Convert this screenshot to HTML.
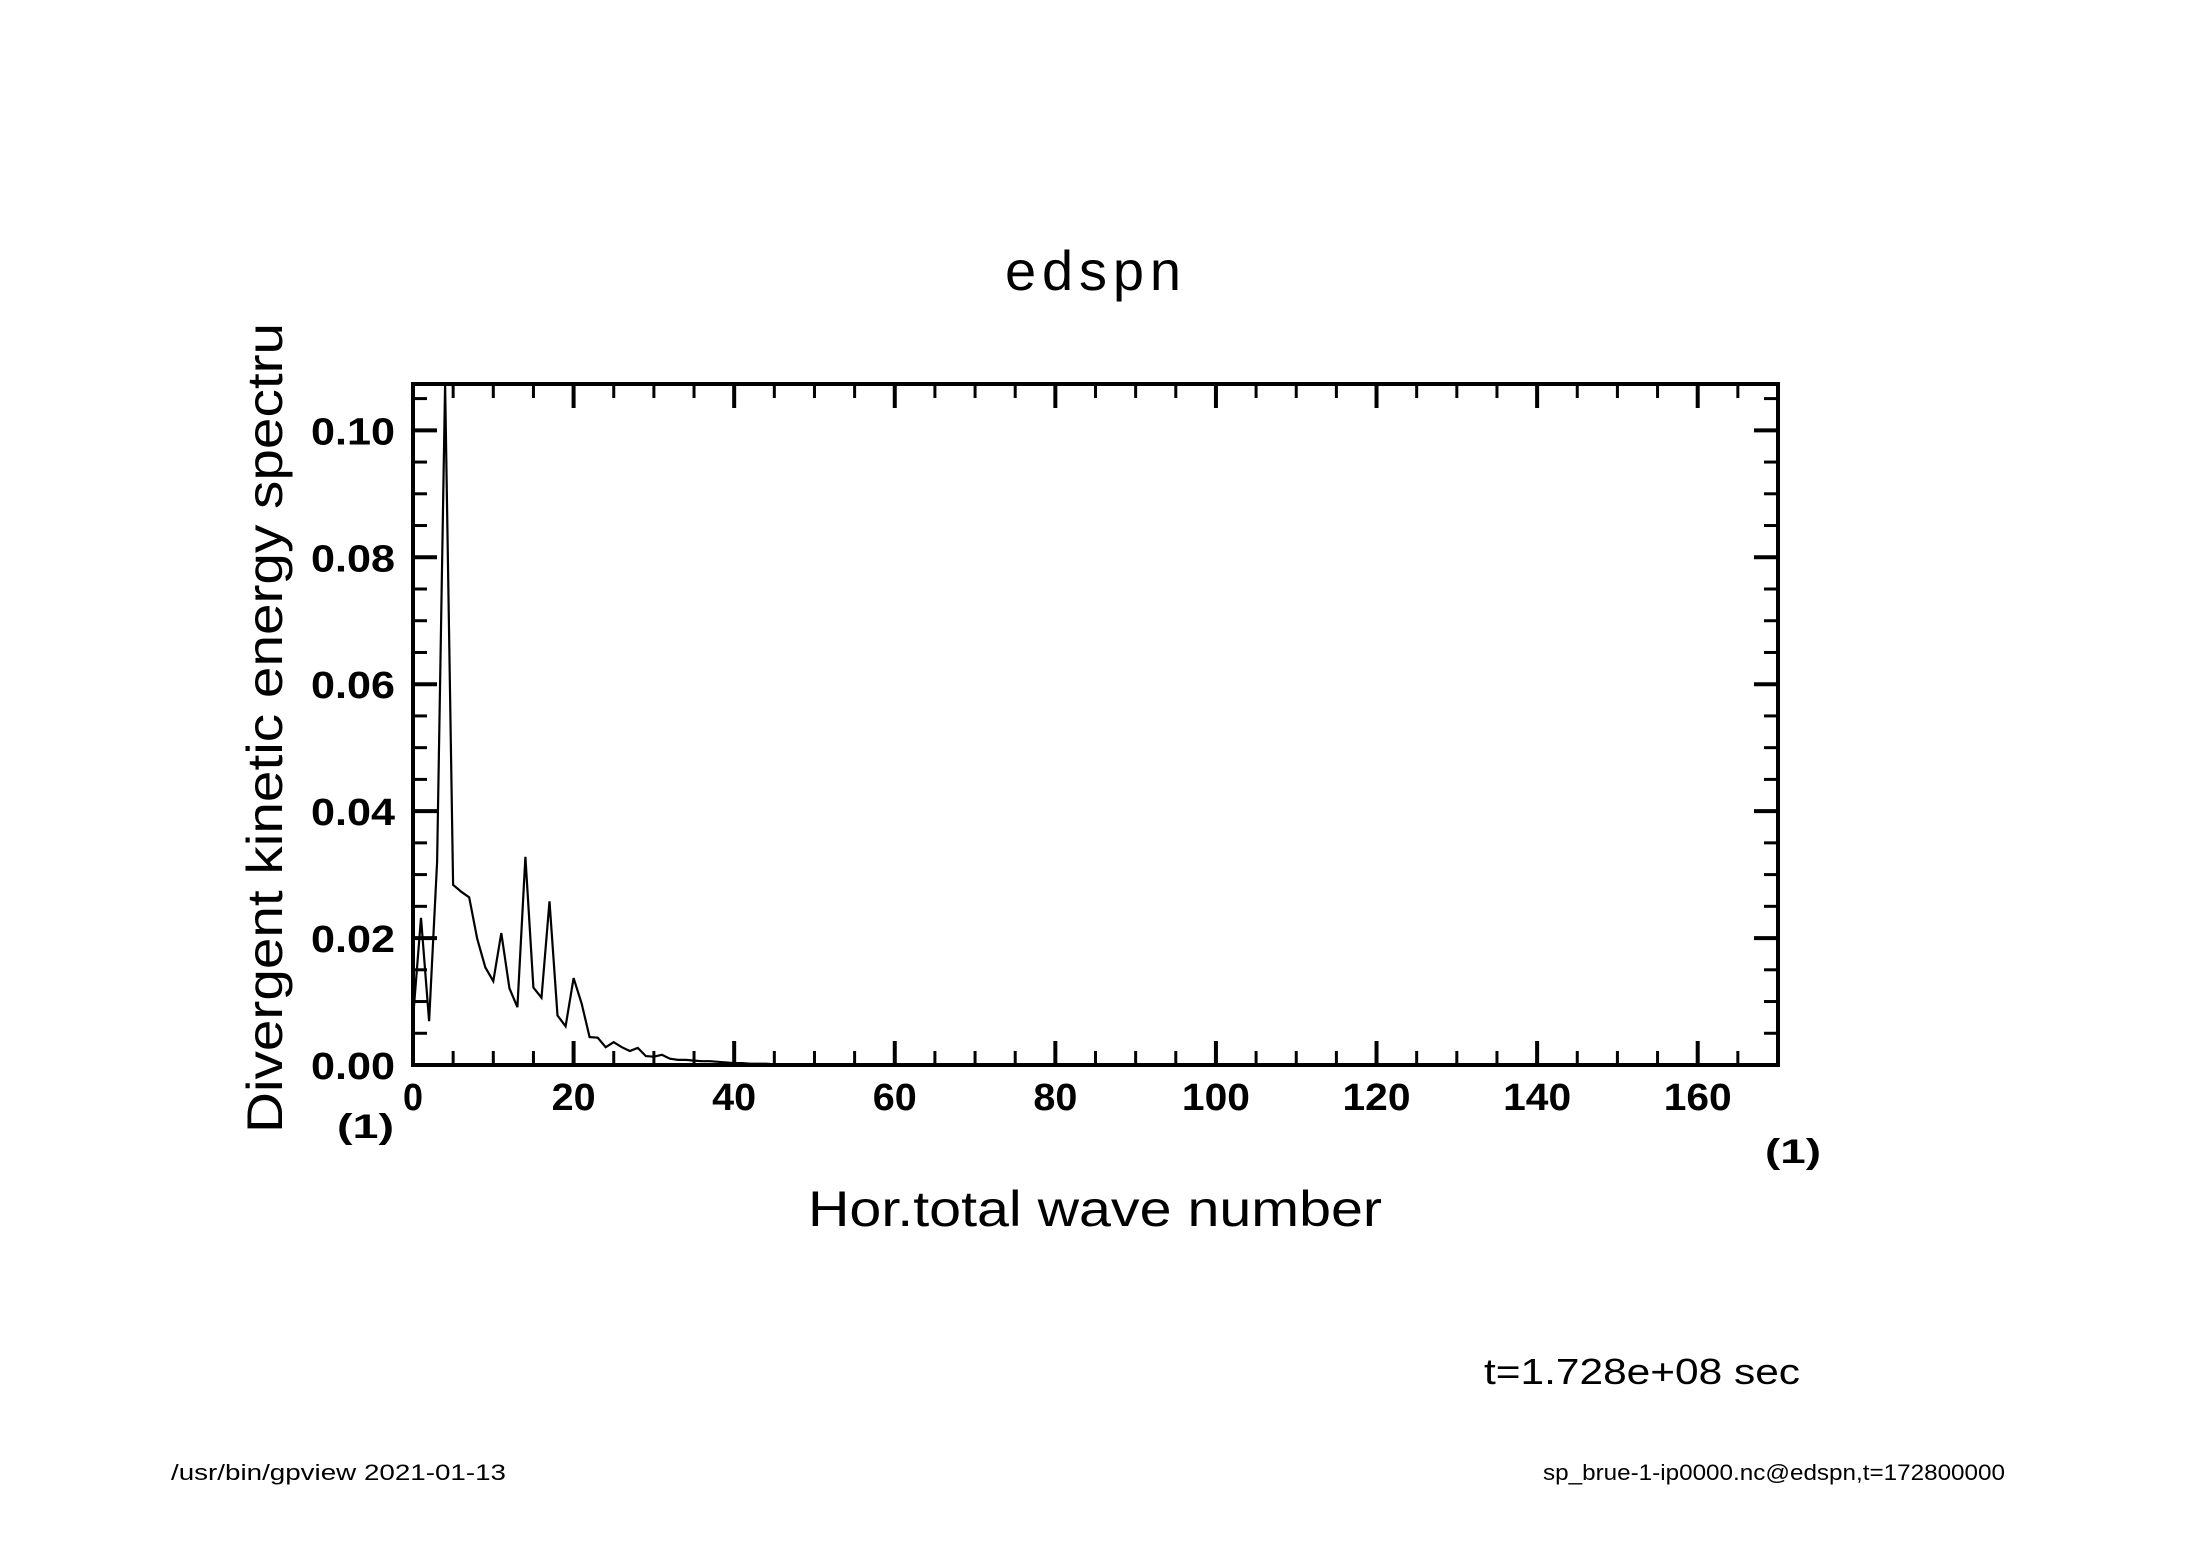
<!DOCTYPE html>
<html><head><meta charset="utf-8"><style>
html,body{margin:0;padding:0;background:#fff;}
svg{display:block;}
text{font-family:"Liberation Sans","DejaVu Sans",sans-serif;fill:#000;}
</style></head><body>
<svg id="chart" width="2188" height="1546" viewBox="0 0 2188 1546" xmlns="http://www.w3.org/2000/svg">
<rect x="0" y="0" width="2188" height="1546" fill="#fff"/>
<text x="1093" y="290" font-size="56" text-anchor="middle" textLength="176">edspn</text>
<g id="plot"></g>
<text x="808" y="1226" font-size="50" textLength="574" lengthAdjust="spacingAndGlyphs">Hor.total wave number</text>
<text transform="translate(282,1133) rotate(-90)" x="0" y="0" font-size="50" textLength="810" lengthAdjust="spacingAndGlyphs">Divergent kinetic energy spectru</text>
<text x="337" y="1138" font-size="34" font-weight="bold" textLength="57" lengthAdjust="spacingAndGlyphs">(1)</text>
<text x="1765" y="1163" font-size="34" font-weight="bold" textLength="56" lengthAdjust="spacingAndGlyphs">(1)</text>
<text x="1484" y="1384" font-size="36" textLength="316" lengthAdjust="spacingAndGlyphs">t=1.728e+08 sec</text>
<text x="171" y="1480" font-size="22" textLength="335" lengthAdjust="spacingAndGlyphs">/usr/bin/gpview  2021-01-13</text>
<text x="1543" y="1480" font-size="22" textLength="462" lengthAdjust="spacingAndGlyphs">sp_brue-1-ip0000.nc@edspn,t=172800000</text>
</svg>
<script>
const xValues = [0,1,2,3,4,5,6,7,8,9,10,11,12,13,14,15,16,17,18,19,20,21,22,23,24,25,26,27,28,29,30,31,32,33,34,35,36,37,38,39,40,41,42,43,44,45,46,47,48,49,50,55,60,80,100,120,140,160,170];
const energy = [0.0073,0.0232,0.0069,0.032,0.1073,0.0284,0.0273,0.0264,0.0199,0.0154,0.0132,0.0208,0.0121,0.0091,0.0328,0.0122,0.0106,0.0258,0.0078,0.0061,0.0137,0.0097,0.0044,0.0043,0.0028,0.0036,0.0028,0.0022,0.0027,0.0014,0.0013,0.0016,0.0010,0.0008,0.0008,0.0007,0.0006,0.0006,0.0005,0.0004,0.0003,0.0003,0.0002,0.0002,0.0002,0.0001,0.0001,0.0001,0.0001,0.0,0.0,0.0,0.0,0.0,0.0,0.0,0.0,0.0,0.0];
const xTickLabels = ["0","20","40","60","80","100","120","140","160"];
const yTickLabels = ["0.00","0.02","0.04","0.06","0.08","0.10"];
const xDomain = [0,170];
const yDomain = [0,0.1073];

const NS = "http://www.w3.org/2000/svg";
const L = 413, R = 1778, T = 384, B = 1065;
const sx = v => L + (v - xDomain[0]) / (xDomain[1] - xDomain[0]) * (R - L);
const sy = v => B - (v - yDomain[0]) / (yDomain[1] - yDomain[0]) * (B - T);
const plot = document.getElementById('plot');
function mk(tag, attrs){ const e = document.createElementNS(NS, tag); for (const k in attrs) e.setAttribute(k, attrs[k]); plot.appendChild(e); return e; }

for (let v = 0; v <= 170; v += 5) {
  const major = v % 20 === 0;
  const len = major ? 24 : 14;
  const x = sx(v);
  const t1 = mk('line', {x1:x, y1:B, x2:x, y2:B-len, stroke:'#000', 'stroke-width': major?4:3});
  
  
  const t2 = mk('line', {x1:x, y1:T, x2:x, y2:T+len, stroke:'#000', 'stroke-width': major?4:3});
  
  
}
xTickLabels.forEach(s => {
  const v = parseFloat(s);
  const t = mk('text', {x: sx(v), y: 1110, 'font-size': 38, 'font-weight': 'bold', 'text-anchor': 'middle', textLength: 20*s.length+ (s.length-1)*4, lengthAdjust: 'spacingAndGlyphs'});
  t.textContent = s;
  
  
});
for (let i = 0; i <= 21; i++) {
  const v = i * 0.005;
  const major = i % 4 === 0;
  const len = major ? 24 : 14;
  const y = sy(v);
  const t1 = mk('line', {x1:L, y1:y, x2:L+len, y2:y, stroke:'#000', 'stroke-width': major?4:3});
  
  
  const t2 = mk('line', {x1:R, y1:y, x2:R-len, y2:y, stroke:'#000', 'stroke-width': major?4:3});
  
  
}
yTickLabels.forEach(s => {
  const v = parseFloat(s);
  const t = mk('text', {x: 395, y: sy(v) + 14, 'font-size': 38, 'font-weight': 'bold', 'text-anchor': 'end', textLength: 84, lengthAdjust: 'spacingAndGlyphs'});
  t.textContent = s;
  
  
});
const pts = xValues.map((x, i) => sx(x).toFixed(1) + ',' + sy(energy[i]).toFixed(1)).join(' ');
const line = mk('polyline', {points: pts, fill: 'none', stroke: '#000', 'stroke-width': 2.2, 'stroke-linejoin': 'miter'});


const frame = mk('rect', {x: L, y: T, width: R - L, height: B - T, fill: 'none', stroke: '#000', 'stroke-width': 4});


</script>
</body></html>
